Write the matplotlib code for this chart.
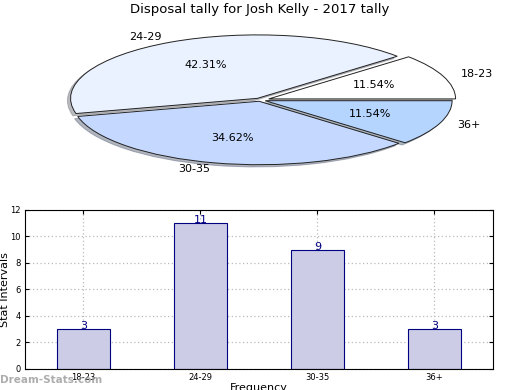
import matplotlib
matplotlib.use('Agg')
import matplotlib.pyplot as plt

# data
labels = ['18-23', '24-29', '30-35', '36+']
counts = [3, 11, 9, 3]
pie_colors = ['#FFFFFF', '#EAF1FF', '#C5D8FF', '#B5D5FF']
explode = [0.05, 0.03, 0.02, 0.03]

fig = plt.figure(figsize=(5.2, 3.9), dpi=100)

# pie, squashed into an ellipse
ax1 = fig.add_axes([0.0365, 0.532, 0.927, 0.423])
wedges, texts, autotexts = ax1.pie(counts, labels=labels, colors=pie_colors, explode=explode,
                                   autopct='%.2f%%', pctdistance=0.6, labeldistance=1.1,
                                   startangle=0,
                                   shadow=dict(ox=-0.012, oy=-0.025, shade=0.5),
                                   wedgeprops=dict(edgecolor='#222222', linewidth=0.7),
                                   textprops=dict(fontsize=8))
ax1.set_aspect('auto')
ax1.set_xlim(-1.29, 1.29)
ax1.set_ylim(-1.3, 1.3)
fig.text(0.5, 0.975, 'Disposal tally for Josh Kelly - 2017 tally', ha='center', va='center', fontsize=9.5)

# bar chart
ax2 = fig.add_axes([0.048, 0.054, 0.9, 0.408])
x = range(len(labels))
ax2.bar(x, counts, width=0.45, color='#CCCCE6', edgecolor='navy', linewidth=0.8, zorder=2)
for i, v in enumerate(counts):
    ax2.text(i, v - 0.15, str(v), ha='center', va='bottom', color='navy', fontsize=8, zorder=3)
ax2.set_xlim(-0.5, 3.5)
ax2.set_ylim(0, 12)
ax2.set_xticks(list(x))
ax2.set_xticklabels(labels)
ax2.set_yticks(range(0, 13, 2))
ax2.tick_params(labelsize=6, direction='in', top=True, right=True, length=3, pad=3)
ax2.grid(True, linestyle=(0, (1, 2)), color='#BBBBBB', linewidth=0.9, zorder=0)
ax2.set_ylabel('Stat Intervals', fontsize=8)
ax2.yaxis.set_label_coords(-0.031, 0.5)
ax2.set_xlabel('Frequency', fontsize=8, labelpad=1)

fig.text(0.0, 0.025, 'Dream-Stats.com', color='#999999', fontsize=7.5, fontweight='bold', alpha=0.8,
         ha='left', va='center')

fig.savefig('out.png', dpi=100)
